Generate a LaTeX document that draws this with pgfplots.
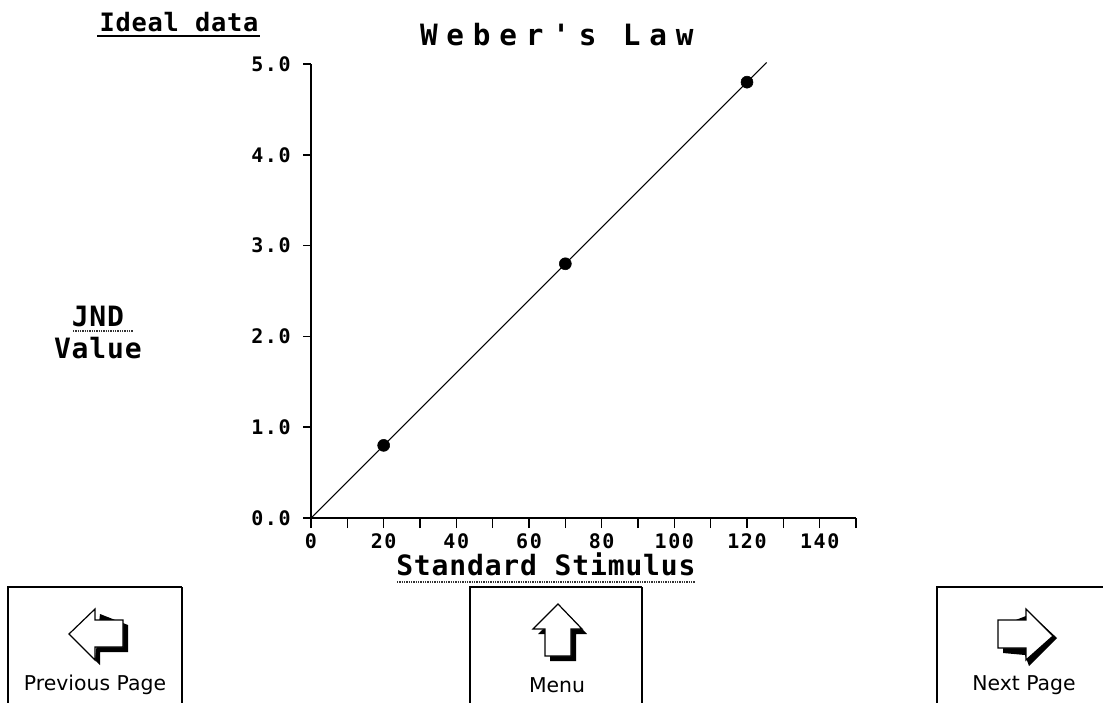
\documentclass[border=0pt]{standalone}
\usepackage{fontspec}
\setmainfont{DejaVu Sans}
\newfontfamily\tickfont[LetterSpace=8]{DejaVu Sans Mono Bold}
\newfontfamily\labelfont[LetterSpace=3]{DejaVu Sans Mono Bold}
\newfontfamily\titlefont[LetterSpace=30]{DejaVu Sans Mono Bold}
\usepackage{pgfplots}
\pgfplotsset{compat=1.18}
\begin{document}
\begin{tikzpicture}
  \begin{axis}[
      at={(233.25pt,-388.5pt)},anchor=origin,
      scale only axis,
      width=408.75pt,height=340.5pt,
      xmin=0,xmax=150,ymin=0,ymax=5,
      axis x line=bottom,
      axis y line=left,
      axis line style={-,line width=1.4pt},
      xtick={0,20,...,140},
      minor xtick={10,30,...,150},
      ytick={0,1,...,5},
      tick align=outside,
      major tick length=7.5pt,
      minor tick length=7.5pt,
      xtick style={line width=1.1pt,black},
      minor tick style={line width=1.1pt,black},
      ytick style={line width=1.1pt,black,xscale=0.8},
      tick label style={font=\fontsize{15}{16}\tickfont},
      x tick label style={yshift=-0.5pt},
      y tick label style={xshift=-4.25pt},
      /pgf/number format/assume math mode=true,
      yticklabel style={/pgf/number format/.cd,fixed,fixed zerofill,precision=1},
      title={Weber's Law},
      title style={at={(axis description cs:0.451,1.048)},anchor=center,font=\fontsize{22}{24}\titlefont},
      xlabel={Standard Stimulus},
      xlabel style={at={(axis description cs:0.431,-0.1025)},anchor=center,font=\fontsize{21}{22}\labelfont},
      ylabel={JND\\Value},
      ylabel style={at={(axis description cs:-0.391,0.409)},anchor=center,rotate=-90,align=center,
        font=\fontsize{21}{24}\labelfont},
      clip=false,
    ]
    \addplot[black,line width=0.8pt,mark=none] coordinates {(0,0) (20,0.8) (70,2.8) (120,4.8) (125.4,5.016)};
    \addplot[only marks,mark=*,mark size=4.5pt,black] coordinates {(20,0.8) (70,2.8) (120,4.8)};
  \end{axis}

  % overlay in reference pixels, page is 1103x703
  \begin{scope}[x=0.75pt,y=-0.75pt,
    btntext/.style={font=\fontsize{15.3}{17}\selectfont,text=black,inner sep=0pt},
    wavy/.style={line width=2pt,black!80,dash pattern=on 1pt off 0.75pt}]
  \useasboundingbox (0,0) rectangle (1103,703);

  \node[inner sep=0pt,font=\fontsize{19}{20}\labelfont] at (179,22) {Ideal data};
  \draw[line width=1.5pt] (97,36) -- (260,36);
  \draw[wavy] (73,331) -- (133,331);
  \draw[wavy] (397,582) -- (695,582);

  % nav buttons, cut off by the page bottom
  \draw[line width=1.1pt] (8,703) -- (8,587) -- (182,587);
  \draw[line width=2pt] (182,587) -- (182,703);
  \draw[line width=1.1pt] (470,703) -- (470,587) -- (642,587);
  \draw[line width=2pt] (642,587) -- (642,703);
  \draw[line width=1.1pt] (937,703) -- (937,587) -- (1103,587);

  % previous
  \fill[black] (100,614) -- (128,625) -- (128,652) -- (100,652) -- (100,665) -- (95,660) -- cycle;
  \draw[fill=white,line width=0.9pt] (69,634) -- (95,609) -- (95,620) -- (123,620) -- (123,647) -- (95,647) -- (95,660) -- cycle;
  \node[btntext] at (95,685) {Previous Page};
  % menu
  \fill[black] (563,609) -- (587,634) -- (576,634) -- (576,661) -- (550,661) -- (550,634) -- (538,634) -- cycle;
  \draw[fill=white,line width=0.9pt] (558,604) -- (582,629) -- (571,629) -- (571,656) -- (545,656) -- (545,629) -- (533,629) -- cycle;
  \node[btntext] at (557,685) {Menu};
  % next
  \fill[black] (1031,614) -- (1057,638) -- (1029,666) -- (1025,655) -- (1003,653) -- (1003,625) -- cycle;
  \draw[fill=white,line width=0.9pt] (1053,636) -- (1026,609) -- (1026,620) -- (998,620) -- (998,648) -- (1026,648) -- (1026,660) -- cycle;
  \node[btntext] at (1024,685) {Next Page};
  \end{scope}
\end{tikzpicture}
\end{document}
